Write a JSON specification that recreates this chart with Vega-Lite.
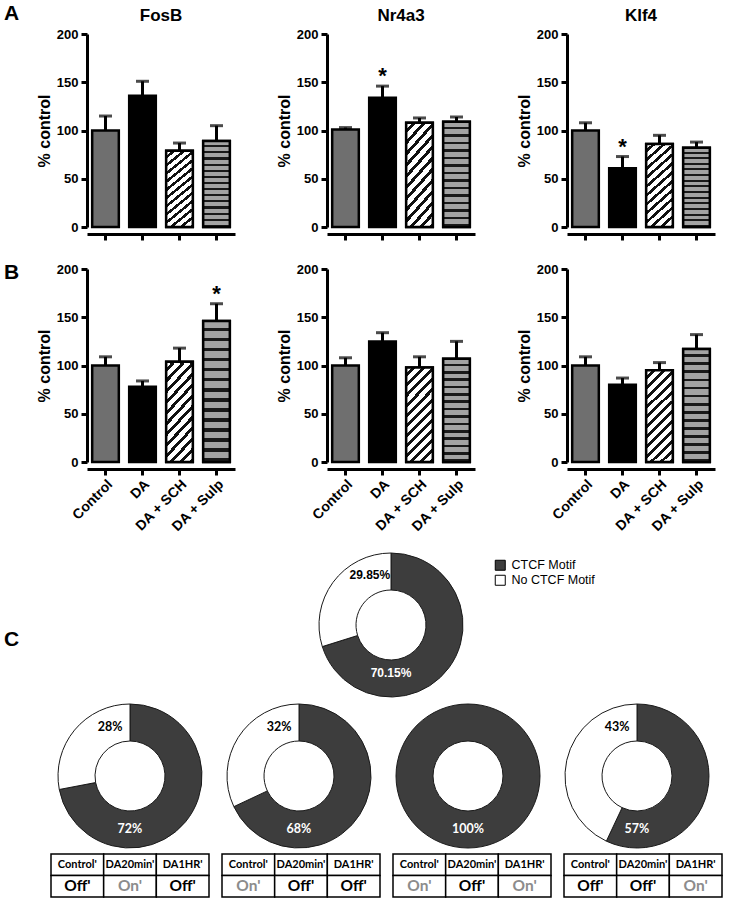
{
  "$schema": "https://vega.github.io/schema/vega-lite/v6.json",
  "padding": {"left": 3, "top": 3, "right": 3, "bottom": 2},
  "background": "white",
  "config": {
    "view": {"stroke": null},
    "font": "Liberation Sans",
    "axis": {
      "domainColor": "black", "domainWidth": 3, "tickColor": "black", "tickWidth": 3, "tickSize": 6,
      "labelFont": "Liberation Sans", "labelFontWeight": "bold", "labelFontSize": 13, "labelColor": "black", "labelPadding": 3,
      "titleFont": "Liberation Sans", "titleFontWeight": "bold", "titleFontSize": 16, "titleColor": "black",
      "grid": false
    },
    "header": {"labelFont": "Liberation Sans", "labelFontWeight": "bold", "labelFontSize": 17, "labelColor": "black"}
  },
  "datasets": {
    "bars": [
      {"panel": "A", "gene": "FosB", "group": "Control", "value": 100, "upper": 115, "star": ""},
      {"panel": "A", "gene": "FosB", "group": "DA", "value": 136, "upper": 151, "star": ""},
      {"panel": "A", "gene": "FosB", "group": "DA + SCH", "value": 79, "upper": 87, "star": ""},
      {"panel": "A", "gene": "FosB", "group": "DA + Sulp", "value": 89, "upper": 105, "star": ""},
      {"panel": "A", "gene": "Nr4a3", "group": "Control", "value": 101, "upper": 103, "star": ""},
      {"panel": "A", "gene": "Nr4a3", "group": "DA", "value": 134, "upper": 146, "star": "*"},
      {"panel": "A", "gene": "Nr4a3", "group": "DA + SCH", "value": 108, "upper": 113, "star": ""},
      {"panel": "A", "gene": "Nr4a3", "group": "DA + Sulp", "value": 109, "upper": 114, "star": ""},
      {"panel": "A", "gene": "Klf4", "group": "Control", "value": 100, "upper": 108, "star": ""},
      {"panel": "A", "gene": "Klf4", "group": "DA", "value": 61, "upper": 73, "star": "*"},
      {"panel": "A", "gene": "Klf4", "group": "DA + SCH", "value": 86, "upper": 95, "star": ""},
      {"panel": "A", "gene": "Klf4", "group": "DA + Sulp", "value": 82, "upper": 88, "star": ""},
      {"panel": "B", "gene": "FosB", "group": "Control", "value": 100, "upper": 109, "star": ""},
      {"panel": "B", "gene": "FosB", "group": "DA", "value": 78, "upper": 84, "star": ""},
      {"panel": "B", "gene": "FosB", "group": "DA + SCH", "value": 104, "upper": 118, "star": ""},
      {"panel": "B", "gene": "FosB", "group": "DA + Sulp", "value": 146, "upper": 164, "star": "*"},
      {"panel": "B", "gene": "Nr4a3", "group": "Control", "value": 100, "upper": 108, "star": ""},
      {"panel": "B", "gene": "Nr4a3", "group": "DA", "value": 125, "upper": 134, "star": ""},
      {"panel": "B", "gene": "Nr4a3", "group": "DA + SCH", "value": 98, "upper": 109, "star": ""},
      {"panel": "B", "gene": "Nr4a3", "group": "DA + Sulp", "value": 107, "upper": 125, "star": ""},
      {"panel": "B", "gene": "Klf4", "group": "Control", "value": 100, "upper": 109, "star": ""},
      {"panel": "B", "gene": "Klf4", "group": "DA", "value": 80, "upper": 87, "star": ""},
      {"panel": "B", "gene": "Klf4", "group": "DA + SCH", "value": 95, "upper": 103, "star": ""},
      {"panel": "B", "gene": "Klf4", "group": "DA + Sulp", "value": 117, "upper": 132, "star": ""}
    ],
    "letters": [{"letter": "A"}, {"letter": "B"}, {"letter": "C"}],
    "top": [
      {"pie": 0, "motif": "CTCF Motif", "pct": 70.15, "label": "70.15%"},
      {"pie": 0, "motif": "No CTCF Motif", "pct": 29.85, "label": "29.85%"}
    ],
    "pies": [
      {"pie": 1, "motif": "CTCF Motif", "pct": 72, "label": "72%"},
      {"pie": 1, "motif": "No CTCF Motif", "pct": 28, "label": "28%"},
      {"pie": 2, "motif": "CTCF Motif", "pct": 68, "label": "68%"},
      {"pie": 2, "motif": "No CTCF Motif", "pct": 32, "label": "32%"},
      {"pie": 3, "motif": "CTCF Motif", "pct": 100, "label": "100%"},
      {"pie": 3, "motif": "No CTCF Motif", "pct": 0, "label": ""},
      {"pie": 4, "motif": "CTCF Motif", "pct": 57, "label": "57%"},
      {"pie": 4, "motif": "No CTCF Motif", "pct": 43, "label": "43%"}
    ],
    "tables": [
      {"pie": 1, "col": "Control'", "row": "head", "text": "Control'"},
      {"pie": 1, "col": "DA20min'", "row": "head", "text": "DA20min'"},
      {"pie": 1, "col": "DA1HR'", "row": "head", "text": "DA1HR'"},
      {"pie": 1, "col": "Control'", "row": "val", "text": "Off'"},
      {"pie": 1, "col": "DA20min'", "row": "val", "text": "On'"},
      {"pie": 1, "col": "DA1HR'", "row": "val", "text": "Off'"},
      {"pie": 2, "col": "Control'", "row": "head", "text": "Control'"},
      {"pie": 2, "col": "DA20min'", "row": "head", "text": "DA20min'"},
      {"pie": 2, "col": "DA1HR'", "row": "head", "text": "DA1HR'"},
      {"pie": 2, "col": "Control'", "row": "val", "text": "On'"},
      {"pie": 2, "col": "DA20min'", "row": "val", "text": "Off'"},
      {"pie": 2, "col": "DA1HR'", "row": "val", "text": "Off'"},
      {"pie": 3, "col": "Control'", "row": "head", "text": "Control'"},
      {"pie": 3, "col": "DA20min'", "row": "head", "text": "DA20min'"},
      {"pie": 3, "col": "DA1HR'", "row": "head", "text": "DA1HR'"},
      {"pie": 3, "col": "Control'", "row": "val", "text": "On'"},
      {"pie": 3, "col": "DA20min'", "row": "val", "text": "Off'"},
      {"pie": 3, "col": "DA1HR'", "row": "val", "text": "On'"},
      {"pie": 4, "col": "Control'", "row": "head", "text": "Control'"},
      {"pie": 4, "col": "DA20min'", "row": "head", "text": "DA20min'"},
      {"pie": 4, "col": "DA1HR'", "row": "head", "text": "DA1HR'"},
      {"pie": 4, "col": "Control'", "row": "val", "text": "Off'"},
      {"pie": 4, "col": "DA20min'", "row": "val", "text": "Off'"},
      {"pie": 4, "col": "DA1HR'", "row": "val", "text": "On'"}
    ]
  },
  "spacing": 17,
  "resolve": {"scale": {"fill": "independent"}, "legend": {"fill": "independent"}},
  "vconcat": [
    {
      "spacing": 20,
      "resolve": {"scale": {"fill": "independent"}, "legend": {"fill": "independent"}},
      "vconcat": [
        {
          "spacing": 16,
          "hconcat": [
            {
              "data": {"name": "letters"},
              "transform": [{"filter": "datum.letter == 'A'"}],
              "width": 15, "height": 2,
              "mark": {"type": "text", "font": "Liberation Sans", "fontWeight": "bold", "fontSize": 21, "dy": -21, "color": "black"},
              "encoding": {"text": {"field": "letter"}}
            },
            {
              "data": {"name": "bars"},
              "transform": [{"filter": "datum.panel == 'A'"}],
              "facet": {"column": {"field": "gene", "type": "nominal", "sort": ["FosB", "Nr4a3", "Klf4"], "title": null, "header": {"labelPadding": 3}}},
              "spacing": 41,
              "resolve": {"axis": {"y": "independent"}},
              "spec": {
                "width": 148, "height": 193,
                "encoding": {"x": {"field": "group", "type": "nominal", "sort": ["Control", "DA", "DA + SCH", "DA + Sulp"], "scale": {"paddingInner": 0.28, "paddingOuter": 0.14}, "axis": {"labels": false, "title": null}}},
                "layer": [
                  {"mark": {"type": "bar", "stroke": "black", "strokeWidth": 2.5},
                   "encoding": {
                     "y": {"field": "value", "type": "quantitative", "scale": {"domain": [0, 200], "nice": false}, "axis": {"values": [0, 50, 100, 150, 200], "title": "% control", "titlePadding": 4}},
                     "fill": {"field": "group", "type": "nominal", "scale": {"domain": ["Control", "DA", "DA + SCH", "DA + Sulp"], "range": ["#6f6f6f", "#000000", "#ffffff", "#a3a3a3"]}, "legend": null}}},
                  {"transform": [{"filter": "datum.group == 'DA + SCH'"}],
                   "mark": {"type": "bar", "stroke": "black", "strokeWidth": 2.5, "fill": {"gradient": "linear", "x1": 0, "y1": 0, "x2": 0.34, "y2": 1.19, "stops": [
                     {"offset": 0, "color": "#ffffff"}, {"offset": 0.05, "color": "#ffffff"}, {"offset": 0.05, "color": "#111111"}, {"offset": 0.0833, "color": "#111111"},
                     {"offset": 0.0833, "color": "#ffffff"}, {"offset": 0.1333, "color": "#ffffff"}, {"offset": 0.1333, "color": "#111111"}, {"offset": 0.1667, "color": "#111111"},
                     {"offset": 0.1667, "color": "#ffffff"}, {"offset": 0.2167, "color": "#ffffff"}, {"offset": 0.2167, "color": "#111111"}, {"offset": 0.25, "color": "#111111"},
                     {"offset": 0.25, "color": "#ffffff"}, {"offset": 0.3, "color": "#ffffff"}, {"offset": 0.3, "color": "#111111"}, {"offset": 0.3333, "color": "#111111"},
                     {"offset": 0.3333, "color": "#ffffff"}, {"offset": 0.3833, "color": "#ffffff"}, {"offset": 0.3833, "color": "#111111"}, {"offset": 0.4167, "color": "#111111"},
                     {"offset": 0.4167, "color": "#ffffff"}, {"offset": 0.4667, "color": "#ffffff"}, {"offset": 0.4667, "color": "#111111"}, {"offset": 0.5, "color": "#111111"},
                     {"offset": 0.5, "color": "#ffffff"}, {"offset": 0.55, "color": "#ffffff"}, {"offset": 0.55, "color": "#111111"}, {"offset": 0.5833, "color": "#111111"},
                     {"offset": 0.5833, "color": "#ffffff"}, {"offset": 0.6333, "color": "#ffffff"}, {"offset": 0.6333, "color": "#111111"}, {"offset": 0.6667, "color": "#111111"},
                     {"offset": 0.6667, "color": "#ffffff"}, {"offset": 0.7167, "color": "#ffffff"}, {"offset": 0.7167, "color": "#111111"}, {"offset": 0.75, "color": "#111111"},
                     {"offset": 0.75, "color": "#ffffff"}, {"offset": 0.8, "color": "#ffffff"}, {"offset": 0.8, "color": "#111111"}, {"offset": 0.8333, "color": "#111111"},
                     {"offset": 0.8333, "color": "#ffffff"}, {"offset": 0.8833, "color": "#ffffff"}, {"offset": 0.8833, "color": "#111111"}, {"offset": 0.9167, "color": "#111111"},
                     {"offset": 0.9167, "color": "#ffffff"}, {"offset": 0.9667, "color": "#ffffff"}, {"offset": 0.9667, "color": "#111111"}, {"offset": 1, "color": "#111111"}]}},
                   "encoding": {"y": {"field": "value", "type": "quantitative", "title": "% control"}}},
                  {"transform": [{"filter": "datum.group == 'DA + Sulp'"}],
                   "mark": {"type": "bar", "stroke": "black", "strokeWidth": 2.5, "fill": {"gradient": "linear", "x1": 0, "y1": 0, "x2": 0, "y2": 1, "stops": [
                     {"offset": 0, "color": "#a3a3a3"}, {"offset": 0.0464, "color": "#a3a3a3"}, {"offset": 0.0464, "color": "#1a1a1a"}, {"offset": 0.0714, "color": "#1a1a1a"},
                     {"offset": 0.0714, "color": "#a3a3a3"}, {"offset": 0.1179, "color": "#a3a3a3"}, {"offset": 0.1179, "color": "#1a1a1a"}, {"offset": 0.1429, "color": "#1a1a1a"},
                     {"offset": 0.1429, "color": "#a3a3a3"}, {"offset": 0.1893, "color": "#a3a3a3"}, {"offset": 0.1893, "color": "#1a1a1a"}, {"offset": 0.2143, "color": "#1a1a1a"},
                     {"offset": 0.2143, "color": "#a3a3a3"}, {"offset": 0.2607, "color": "#a3a3a3"}, {"offset": 0.2607, "color": "#1a1a1a"}, {"offset": 0.2857, "color": "#1a1a1a"},
                     {"offset": 0.2857, "color": "#a3a3a3"}, {"offset": 0.3321, "color": "#a3a3a3"}, {"offset": 0.3321, "color": "#1a1a1a"}, {"offset": 0.3571, "color": "#1a1a1a"},
                     {"offset": 0.3571, "color": "#a3a3a3"}, {"offset": 0.4036, "color": "#a3a3a3"}, {"offset": 0.4036, "color": "#1a1a1a"}, {"offset": 0.4286, "color": "#1a1a1a"},
                     {"offset": 0.4286, "color": "#a3a3a3"}, {"offset": 0.475, "color": "#a3a3a3"}, {"offset": 0.475, "color": "#1a1a1a"}, {"offset": 0.5, "color": "#1a1a1a"},
                     {"offset": 0.5, "color": "#a3a3a3"}, {"offset": 0.5464, "color": "#a3a3a3"}, {"offset": 0.5464, "color": "#1a1a1a"}, {"offset": 0.5714, "color": "#1a1a1a"},
                     {"offset": 0.5714, "color": "#a3a3a3"}, {"offset": 0.6179, "color": "#a3a3a3"}, {"offset": 0.6179, "color": "#1a1a1a"}, {"offset": 0.6429, "color": "#1a1a1a"},
                     {"offset": 0.6429, "color": "#a3a3a3"}, {"offset": 0.6893, "color": "#a3a3a3"}, {"offset": 0.6893, "color": "#1a1a1a"}, {"offset": 0.7143, "color": "#1a1a1a"},
                     {"offset": 0.7143, "color": "#a3a3a3"}, {"offset": 0.7607, "color": "#a3a3a3"}, {"offset": 0.7607, "color": "#1a1a1a"}, {"offset": 0.7857, "color": "#1a1a1a"},
                     {"offset": 0.7857, "color": "#a3a3a3"}, {"offset": 0.8321, "color": "#a3a3a3"}, {"offset": 0.8321, "color": "#1a1a1a"}, {"offset": 0.8571, "color": "#1a1a1a"},
                     {"offset": 0.8571, "color": "#a3a3a3"}, {"offset": 0.9036, "color": "#a3a3a3"}, {"offset": 0.9036, "color": "#1a1a1a"}, {"offset": 0.9286, "color": "#1a1a1a"},
                     {"offset": 0.9286, "color": "#a3a3a3"}, {"offset": 0.975, "color": "#a3a3a3"}, {"offset": 0.975, "color": "#1a1a1a"}, {"offset": 1, "color": "#1a1a1a"}]}},
                   "encoding": {"y": {"field": "value", "type": "quantitative", "title": "% control"}}},
                  {"mark": {"type": "rule", "strokeWidth": 3, "color": "black"},
                   "encoding": {"y": {"field": "value", "type": "quantitative", "title": "% control"}, "y2": {"field": "upper"}}},
                  {"mark": {"type": "tick", "thickness": 3, "size": 13, "color": "black"},
                   "encoding": {"y": {"field": "upper", "type": "quantitative", "title": "% control"}}},
                  {"mark": {"type": "text", "fontSize": 22, "fontWeight": "bold", "baseline": "alphabetic", "dy": -3, "color": "black"},
                   "encoding": {"y": {"field": "upper", "type": "quantitative", "title": "% control"}, "text": {"field": "star"}}}
                ]
              }
            }
          ]
        },
        {
          "spacing": 16,
          "hconcat": [
            {
              "data": {"name": "letters"},
              "transform": [{"filter": "datum.letter == 'B'"}],
              "width": 15, "height": 2,
              "mark": {"type": "text", "font": "Liberation Sans", "fontWeight": "bold", "fontSize": 21, "dy": 3, "color": "black"},
              "encoding": {"text": {"field": "letter"}}
            },
            {
              "data": {"name": "bars"},
              "transform": [{"filter": "datum.panel == 'B'"}],
              "facet": {"column": {"field": "gene", "type": "nominal", "sort": ["FosB", "Nr4a3", "Klf4"], "title": null, "header": {"labels": false, "title": null}}},
              "spacing": 41,
              "resolve": {"axis": {"y": "independent"}},
              "spec": {
                "width": 148, "height": 193,
                "encoding": {"x": {"field": "group", "type": "nominal", "sort": ["Control", "DA", "DA + SCH", "DA + Sulp"], "scale": {"paddingInner": 0.28, "paddingOuter": 0.14}, "axis": {"labelAngle": -45, "labelFontSize": 14, "labelPadding": 2, "title": null}}},
                "layer": [
                  {"mark": {"type": "bar", "stroke": "black", "strokeWidth": 2.5},
                   "encoding": {
                     "y": {"field": "value", "type": "quantitative", "scale": {"domain": [0, 200], "nice": false}, "axis": {"values": [0, 50, 100, 150, 200], "title": "% control", "titlePadding": 4}},
                     "fill": {"field": "group", "type": "nominal", "scale": {"domain": ["Control", "DA", "DA + SCH", "DA + Sulp"], "range": ["#6f6f6f", "#000000", "#ffffff", "#a3a3a3"]}, "legend": null}}},
                  {"transform": [{"filter": "datum.group == 'DA + SCH'"}],
                   "mark": {"type": "bar", "stroke": "black", "strokeWidth": 2.5, "fill": {"gradient": "linear", "x1": 0, "y1": 0, "x2": 0.34, "y2": 1.19, "stops": [
                     {"offset": 0, "color": "#ffffff"}, {"offset": 0.05, "color": "#ffffff"}, {"offset": 0.05, "color": "#111111"}, {"offset": 0.0833, "color": "#111111"},
                     {"offset": 0.0833, "color": "#ffffff"}, {"offset": 0.1333, "color": "#ffffff"}, {"offset": 0.1333, "color": "#111111"}, {"offset": 0.1667, "color": "#111111"},
                     {"offset": 0.1667, "color": "#ffffff"}, {"offset": 0.2167, "color": "#ffffff"}, {"offset": 0.2167, "color": "#111111"}, {"offset": 0.25, "color": "#111111"},
                     {"offset": 0.25, "color": "#ffffff"}, {"offset": 0.3, "color": "#ffffff"}, {"offset": 0.3, "color": "#111111"}, {"offset": 0.3333, "color": "#111111"},
                     {"offset": 0.3333, "color": "#ffffff"}, {"offset": 0.3833, "color": "#ffffff"}, {"offset": 0.3833, "color": "#111111"}, {"offset": 0.4167, "color": "#111111"},
                     {"offset": 0.4167, "color": "#ffffff"}, {"offset": 0.4667, "color": "#ffffff"}, {"offset": 0.4667, "color": "#111111"}, {"offset": 0.5, "color": "#111111"},
                     {"offset": 0.5, "color": "#ffffff"}, {"offset": 0.55, "color": "#ffffff"}, {"offset": 0.55, "color": "#111111"}, {"offset": 0.5833, "color": "#111111"},
                     {"offset": 0.5833, "color": "#ffffff"}, {"offset": 0.6333, "color": "#ffffff"}, {"offset": 0.6333, "color": "#111111"}, {"offset": 0.6667, "color": "#111111"},
                     {"offset": 0.6667, "color": "#ffffff"}, {"offset": 0.7167, "color": "#ffffff"}, {"offset": 0.7167, "color": "#111111"}, {"offset": 0.75, "color": "#111111"},
                     {"offset": 0.75, "color": "#ffffff"}, {"offset": 0.8, "color": "#ffffff"}, {"offset": 0.8, "color": "#111111"}, {"offset": 0.8333, "color": "#111111"},
                     {"offset": 0.8333, "color": "#ffffff"}, {"offset": 0.8833, "color": "#ffffff"}, {"offset": 0.8833, "color": "#111111"}, {"offset": 0.9167, "color": "#111111"},
                     {"offset": 0.9167, "color": "#ffffff"}, {"offset": 0.9667, "color": "#ffffff"}, {"offset": 0.9667, "color": "#111111"}, {"offset": 1, "color": "#111111"}]}},
                   "encoding": {"y": {"field": "value", "type": "quantitative", "title": "% control"}}},
                  {"transform": [{"filter": "datum.group == 'DA + Sulp'"}],
                   "mark": {"type": "bar", "stroke": "black", "strokeWidth": 2.5, "fill": {"gradient": "linear", "x1": 0, "y1": 0, "x2": 0, "y2": 1, "stops": [
                     {"offset": 0, "color": "#a3a3a3"}, {"offset": 0.0464, "color": "#a3a3a3"}, {"offset": 0.0464, "color": "#1a1a1a"}, {"offset": 0.0714, "color": "#1a1a1a"},
                     {"offset": 0.0714, "color": "#a3a3a3"}, {"offset": 0.1179, "color": "#a3a3a3"}, {"offset": 0.1179, "color": "#1a1a1a"}, {"offset": 0.1429, "color": "#1a1a1a"},
                     {"offset": 0.1429, "color": "#a3a3a3"}, {"offset": 0.1893, "color": "#a3a3a3"}, {"offset": 0.1893, "color": "#1a1a1a"}, {"offset": 0.2143, "color": "#1a1a1a"},
                     {"offset": 0.2143, "color": "#a3a3a3"}, {"offset": 0.2607, "color": "#a3a3a3"}, {"offset": 0.2607, "color": "#1a1a1a"}, {"offset": 0.2857, "color": "#1a1a1a"},
                     {"offset": 0.2857, "color": "#a3a3a3"}, {"offset": 0.3321, "color": "#a3a3a3"}, {"offset": 0.3321, "color": "#1a1a1a"}, {"offset": 0.3571, "color": "#1a1a1a"},
                     {"offset": 0.3571, "color": "#a3a3a3"}, {"offset": 0.4036, "color": "#a3a3a3"}, {"offset": 0.4036, "color": "#1a1a1a"}, {"offset": 0.4286, "color": "#1a1a1a"},
                     {"offset": 0.4286, "color": "#a3a3a3"}, {"offset": 0.475, "color": "#a3a3a3"}, {"offset": 0.475, "color": "#1a1a1a"}, {"offset": 0.5, "color": "#1a1a1a"},
                     {"offset": 0.5, "color": "#a3a3a3"}, {"offset": 0.5464, "color": "#a3a3a3"}, {"offset": 0.5464, "color": "#1a1a1a"}, {"offset": 0.5714, "color": "#1a1a1a"},
                     {"offset": 0.5714, "color": "#a3a3a3"}, {"offset": 0.6179, "color": "#a3a3a3"}, {"offset": 0.6179, "color": "#1a1a1a"}, {"offset": 0.6429, "color": "#1a1a1a"},
                     {"offset": 0.6429, "color": "#a3a3a3"}, {"offset": 0.6893, "color": "#a3a3a3"}, {"offset": 0.6893, "color": "#1a1a1a"}, {"offset": 0.7143, "color": "#1a1a1a"},
                     {"offset": 0.7143, "color": "#a3a3a3"}, {"offset": 0.7607, "color": "#a3a3a3"}, {"offset": 0.7607, "color": "#1a1a1a"}, {"offset": 0.7857, "color": "#1a1a1a"},
                     {"offset": 0.7857, "color": "#a3a3a3"}, {"offset": 0.8321, "color": "#a3a3a3"}, {"offset": 0.8321, "color": "#1a1a1a"}, {"offset": 0.8571, "color": "#1a1a1a"},
                     {"offset": 0.8571, "color": "#a3a3a3"}, {"offset": 0.9036, "color": "#a3a3a3"}, {"offset": 0.9036, "color": "#1a1a1a"}, {"offset": 0.9286, "color": "#1a1a1a"},
                     {"offset": 0.9286, "color": "#a3a3a3"}, {"offset": 0.975, "color": "#a3a3a3"}, {"offset": 0.975, "color": "#1a1a1a"}, {"offset": 1, "color": "#1a1a1a"}]}},
                   "encoding": {"y": {"field": "value", "type": "quantitative", "title": "% control"}}},
                  {"mark": {"type": "rule", "strokeWidth": 3, "color": "black"},
                   "encoding": {"y": {"field": "value", "type": "quantitative", "title": "% control"}, "y2": {"field": "upper"}}},
                  {"mark": {"type": "tick", "thickness": 3, "size": 13, "color": "black"},
                   "encoding": {"y": {"field": "upper", "type": "quantitative", "title": "% control"}}},
                  {"mark": {"type": "text", "fontSize": 22, "fontWeight": "bold", "baseline": "alphabetic", "dy": -3, "color": "black"},
                   "encoding": {"y": {"field": "upper", "type": "quantitative", "title": "% control"}, "text": {"field": "star"}}}
                ]
              }
            }
          ]
        }
      ]
    },
    {
      "spacing": 30,
      "resolve": {"scale": {"fill": "independent"}, "legend": {"fill": "independent"}},
      "hconcat": [
        {
          "data": {"name": "letters"},
          "transform": [{"filter": "datum.letter == 'C'"}],
          "width": 15, "height": 146,
          "mark": {"type": "text", "font": "Liberation Sans", "fontWeight": "bold", "fontSize": 21, "dy": 15, "color": "black"},
          "encoding": {"text": {"field": "letter"}}
        },
        {
          "spacing": 3,
          "resolve": {"scale": {"fill": "independent"}, "legend": {"fill": "independent"}},
          "vconcat": [
            {
              "data": {"name": "top"},
              "transform": [{"stack": "pct", "groupby": ["pie"], "sort": [{"field": "motif", "order": "ascending"}], "as": ["t0", "t1"]}],
              "width": 680, "height": 146,
              "layer": [
                {"mark": {"type": "arc", "outerRadius": 72, "innerRadius": 35, "stroke": "#1a1a1a", "strokeWidth": 1},
                 "encoding": {
                   "theta": {"field": "t0", "type": "quantitative", "stack": null, "scale": {"domain": [0, 100]}},
                   "theta2": {"field": "t1"},
                   "fill": {"field": "motif", "type": "nominal", "scale": {"domain": ["CTCF Motif", "No CTCF Motif"], "range": ["#3d3d3d", "#ffffff"]},
                     "legend": {"title": null, "orient": "none", "legendX": 443, "legendY": 7, "symbolType": "square", "symbolSize": 100, "symbolStrokeColor": "black", "symbolStrokeWidth": 1, "labelFont": "Liberation Sans", "labelFontSize": 12.5, "labelColor": "black", "labelOffset": 5, "rowPadding": 0}}}},
                {"transform": [{"filter": "datum.motif == 'CTCF Motif'"}],
                 "mark": {"type": "text", "theta": 3.1416, "radius": 48, "color": "white", "font": "Liberation Sans", "fontWeight": "bold", "fontSize": 12},
                 "encoding": {"text": {"field": "label"}}},
                {"transform": [{"filter": "datum.motif == 'No CTCF Motif'"}],
                 "mark": {"type": "text", "theta": 5.88, "radius": 54, "color": "black", "font": "Liberation Sans", "fontWeight": "bold", "fontSize": 12},
                 "encoding": {"text": {"field": "label"}}}
              ]
            },
            {
              "data": {"name": "pies"},
              "transform": [{"stack": "pct", "groupby": ["pie"], "sort": [{"field": "motif", "order": "ascending"}], "as": ["t0", "t1"]}],
              "facet": {"column": {"field": "pie", "type": "ordinal", "title": null, "header": {"labels": false, "title": null}}},
              "spacing": 11,
              "spec": {
                "width": 158, "height": 146,
                "layer": [
                  {"transform": [{"filter": "datum.pct > 0"}],
                   "mark": {"type": "arc", "outerRadius": 72, "innerRadius": 35, "stroke": "#1a1a1a", "strokeWidth": 1},
                   "encoding": {
                     "theta": {"field": "t0", "type": "quantitative", "stack": null, "scale": {"domain": [0, 100]}},
                     "theta2": {"field": "t1"},
                     "fill": {"field": "motif", "type": "nominal", "scale": {"domain": ["CTCF Motif", "No CTCF Motif"], "range": ["#3d3d3d", "#ffffff"]}, "legend": null}}},
                  {"transform": [{"filter": "datum.motif == 'CTCF Motif'"}],
                   "mark": {"type": "text", "theta": 3.1416, "radius": 53, "color": "white", "font": "Lato", "fontWeight": "bold", "fontSize": 12.5},
                   "encoding": {"text": {"field": "label"}}},
                  {"transform": [{"filter": "datum.motif == 'No CTCF Motif' && datum.pct > 0"}],
                   "mark": {"type": "text", "theta": 5.9, "radius": 53, "color": "black", "font": "Lato", "fontWeight": "bold", "fontSize": 12.5},
                   "encoding": {"text": {"field": "label"}}}
                ]
              }
            },
            {
              "data": {"name": "tables"},
              "facet": {"column": {"field": "pie", "type": "ordinal", "title": null, "header": {"labels": false, "title": null}}},
              "spacing": 11,
              "spec": {
                "width": 158, "height": 43,
                "encoding": {
                  "x": {"field": "col", "type": "nominal", "sort": ["Control'", "DA20min'", "DA1HR'"], "axis": null, "scale": {"paddingInner": 0, "paddingOuter": 0}},
                  "y": {"field": "row", "type": "nominal", "sort": ["head", "val"], "axis": null, "scale": {"paddingInner": 0, "paddingOuter": 0}}
                },
                "layer": [
                  {"mark": {"type": "rect", "fill": "white", "stroke": "black", "strokeWidth": 1.5}},
                  {"transform": [{"filter": "datum.row == 'head'"}],
                   "mark": {"type": "text", "font": "Lato", "fontWeight": "bold", "fontSize": 11, "color": "black"},
                   "encoding": {"text": {"field": "text"}}},
                  {"transform": [{"filter": "datum.row == 'val'"}],
                   "mark": {"type": "text", "font": "Lato", "fontWeight": "bold", "fontSize": 15.5},
                   "encoding": {"text": {"field": "text"}, "color": {"field": "text", "type": "nominal", "scale": {"domain": ["Off'", "On'"], "range": ["#000000", "#8c8c8c"]}, "legend": null}}}
                ]
              }
            }
          ]
        }
      ]
    }
  ]
}
